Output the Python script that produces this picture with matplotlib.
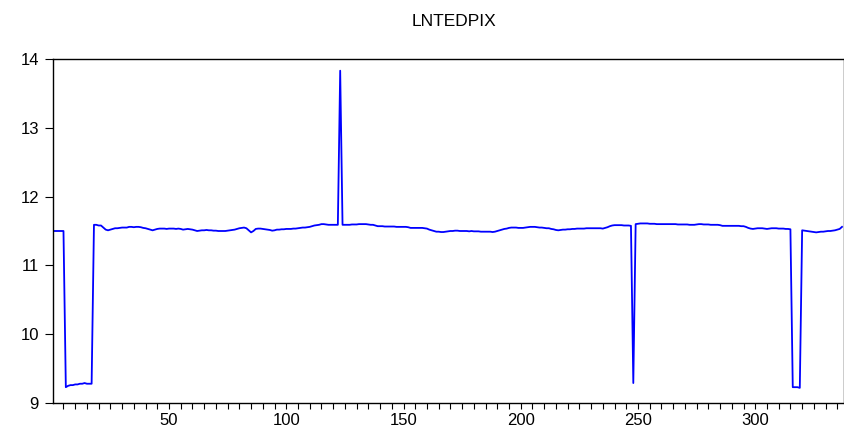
import numpy as np
import matplotlib.pyplot as plt
from matplotlib.ticker import MultipleLocator

plt.rcParams['font.family'] = ['Liberation Sans', 'DejaVu Sans']

title = 'LNTEDPIX'

lntedpix = [
    11.50, 11.50, 11.50, 11.50, 11.50,                                  # 1-5
    9.23, 9.25, 9.26, 9.26, 9.27, 9.27, 9.28, 9.28, 9.29, 9.28, 9.28, 9.28,  # 6-17
    11.59, 11.59, 11.58, 11.58,                                         # 18-21
    11.55, 11.52, 11.51,                                                # 22-24
    11.52, 11.53, 11.54, 11.54,                                         # 25-28
    11.545, 11.55, 11.55, 11.55, 11.56, 11.56, 11.555, 11.56, 11.56,    # 29-37
    11.555, 11.545, 11.54,                                              # 38-40
    11.53, 11.52, 11.51, 11.52,                                         # 41-44
    11.53, 11.535, 11.535, 11.535, 11.53, 11.535, 11.535, 11.535, 11.53, 11.535, 11.53,  # 45-55
    11.52, 11.525, 11.53, 11.525, 11.52,                                # 56-60
    11.51, 11.50, 11.505,                                               # 61-63
    11.51, 11.51, 11.515, 11.51,                                        # 64-67
    11.51, 11.505, 11.505, 11.50, 11.50, 11.50, 11.50, 11.505, 11.51,   # 68-76
    11.515, 11.52, 11.53, 11.54, 11.545, 11.55,                         # 77-82
    11.54, 11.51, 11.48, 11.50, 11.53,                                  # 83-87
    11.535, 11.535, 11.53, 11.525, 11.52, 11.515,                       # 88-93
    11.505, 11.51, 11.52,                                               # 94-96
    11.52, 11.525, 11.525, 11.53, 11.53, 11.53, 11.535, 11.535,         # 97-104
    11.54, 11.545, 11.55, 11.55, 11.555,                                # 105-109
    11.56, 11.57, 11.58, 11.585, 11.59, 11.60,                          # 110-115
    11.60, 11.595, 11.59, 11.59, 11.59, 11.59, 11.59,                   # 116-122
    13.83,                                                              # 123
    11.59, 11.59, 11.59, 11.59, 11.595, 11.595, 11.595, 11.60, 11.60, 11.60, 11.60,
    11.595, 11.59, 11.59, 11.58,                                        # 124-138
    11.57, 11.57, 11.57, 11.565, 11.565, 11.565, 11.565, 11.565, 11.56, 11.56,
    11.56, 11.56, 11.56, 11.555,                                        # 139-152
    11.545, 11.545, 11.545, 11.545, 11.545, 11.545, 11.54, 11.535,      # 153-160
    11.52, 11.51, 11.50, 11.49, 11.49, 11.485, 11.485, 11.49, 11.495, 11.50,  # 161-170
    11.50, 11.505, 11.505, 11.50, 11.50, 11.50, 11.50, 11.495, 11.50, 11.495,
    11.495, 11.495,                                                     # 171-182
    11.49, 11.49, 11.49, 11.49, 11.49, 11.485, 11.49, 11.50,            # 183-190
    11.51, 11.52, 11.53, 11.535, 11.545, 11.55, 11.55, 11.55, 11.545, 11.545,  # 191-200
    11.545, 11.55, 11.555, 11.56, 11.56, 11.56, 11.555, 11.55, 11.55, 11.545,
    11.54, 11.54,                                                       # 201-212
    11.53, 11.525, 11.515, 11.51,                                       # 213-216
    11.515, 11.52, 11.52, 11.525, 11.525, 11.53, 11.53, 11.535, 11.535, 11.535,  # 217-226
    11.535, 11.54, 11.54, 11.54, 11.54, 11.54, 11.54, 11.54, 11.535, 11.545,
    11.555, 11.57,                                                      # 227-238
    11.58, 11.585, 11.585, 11.585, 11.585, 11.58, 11.58, 11.58, 11.575, # 239-247
    9.29,                                                               # 248
    11.60, 11.605, 11.61, 11.61, 11.61, 11.61, 11.605, 11.605, 11.605, 11.60,
    11.60, 11.60,                                                       # 249-260
    11.60, 11.60, 11.60, 11.60, 11.60, 11.60, 11.595, 11.595, 11.595, 11.595,
    11.595, 11.59, 11.59, 11.59, 11.595, 11.60,                         # 261-276
    11.60, 11.595, 11.595, 11.595, 11.59, 11.59, 11.59, 11.59, 11.585, 11.575,  # 277-286
    11.575, 11.575, 11.575, 11.575, 11.575, 11.575, 11.575, 11.57, 11.57, 11.56,  # 287-296
    11.545, 11.535, 11.53, 11.535,                                      # 297-300
    11.54, 11.54, 11.54, 11.535, 11.53, 11.535, 11.54, 11.54, 11.54, 11.535,
    11.535, 11.535, 11.53, 11.53, 11.525,                               # 301-315
    9.23, 9.23, 9.23, 9.22,                                             # 316-319
    11.51, 11.505, 11.50, 11.495, 11.49, 11.485, 11.48, 11.485, 11.49, 11.49,
    11.495, 11.50, 11.50, 11.505, 11.51, 11.52, 11.53, 11.56,           # 320-337
]
obs = np.arange(1, len(lntedpix) + 1)

y_ticks = [9, 10, 11, 12, 13, 14]
x_ticks = [50, 100, 150, 200, 250, 300]

fig = plt.figure(figsize=(8.44, 4.30), dpi=100)
ax = fig.add_axes([53 / 844, 1 - 403 / 430, 1 - 53 / 844, 344 / 430])

ax.plot(obs, lntedpix, color='#0000ff', linewidth=1.3)

ax.set_xlim(0.53, 337.85)
ax.set_ylim(9, 14)
ax.set_yticks(y_ticks)
ax.set_xticks(x_ticks)
ax.xaxis.set_minor_locator(MultipleLocator(5))

ax.tick_params(axis='y', direction='out', length=6, width=0.8, labelsize=12, pad=4)
ax.tick_params(axis='x', which='major', direction='out', length=4, width=0.8,
               labelsize=12, pad=3)
ax.tick_params(axis='x', which='minor', direction='out', length=4, width=0.8)

for side in ['top', 'left', 'right', 'bottom']:
    ax.spines[side].set_linewidth(1.0)

fig.text(0.538, 1 - 22 / 430, title, ha='center', va='center', fontsize=12.5)

fig.savefig('out.png', dpi=100)
